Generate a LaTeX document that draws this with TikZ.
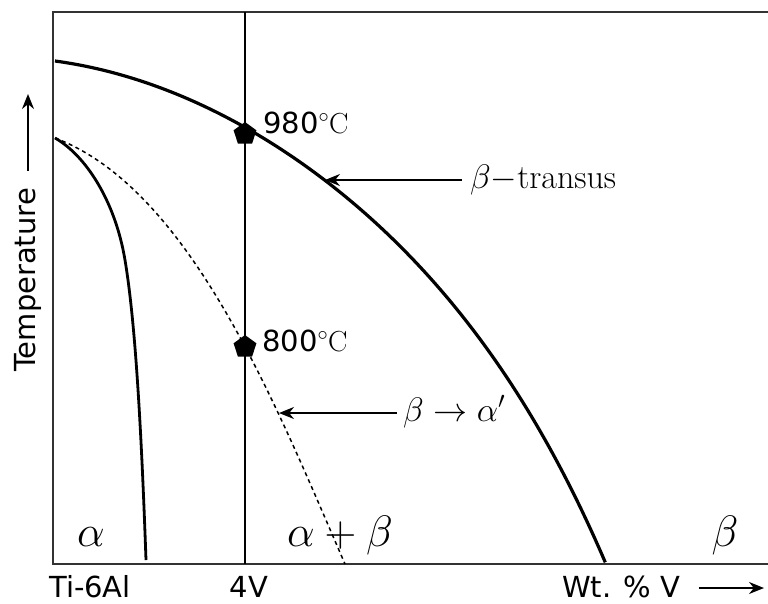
\RequirePackage{fix-cm}
\documentclass[tikz,border=0pt]{standalone}
\usepackage{amsmath,amssymb}
\usepackage{fontspec}
\usepackage{tikz}
\usetikzlibrary{arrows.meta,positioning,shapes.geometric}
\newfontfamily\labelsf{DejaVu Sans}

\begin{document}
\begin{tikzpicture}[x=1pt, y=-1pt, >={Stealth[length=15pt,width=12pt]},
  sflabel/.style={font=\labelsf\fontsize{29}{34}\selectfont, inner sep=0pt},
  phase/.style={font=\fontsize{44}{50}\selectfont, inner sep=0pt},
  note/.style={font=\fontsize{34}{40}\selectfont, inner sep=0pt},
  pent/.style={regular polygon, regular polygon sides=5, fill=black, minimum size=24pt, inner sep=0pt}]

  \useasboundingbox (0,0) rectangle (768,603);

  % Frame and 4V line
  \draw[line width=2pt, black!80] (768,12) -- (53,12) -- (53,564) -- (768,564);
  \draw[line width=1.5pt] (245,12) -- (245,564);

  % Phase boundaries
  \draw[line width=3.2pt] plot[domain=0:1, samples=120] ({55+551*\x}, {61+503*(0.15*\x+0.672*\x^2+0.178*\x^6)});
  \draw[line width=2.8pt] (55,138) .. controls (85,155) and (115,200) .. (125,260)
    .. controls (135,320) and (141,420) .. (146,560);
  \draw[line width=1.5pt, dash pattern=on 4pt off 3.5pt] (55,138) .. controls (190,189) and (275,403) .. (345,564);

  % Define coordinates for nodes
  \node[pent] (p1) at (245,134) {};
  \node[pent] (p2) at (245,347) {};
  \node[sflabel, anchor=base west] (t1) at (263,133) {980$^\circ$\textrm{C}};
  \node[sflabel, anchor=base west] (t2) at (262,351) {800$^\circ$\textrm{C}};
  \node[note, anchor=base west] (bt) at (470,188) {$\beta-$transus};
  \node[note, anchor=base west] (ba) at (403,421) {$\beta\rightarrow\alpha'$};
  \coordinate (c1) at (325,180);
  \coordinate (c2) at (279,413);

  \node[phase, anchor=base] (a) at (91,546) {$\alpha$};
  \node[phase, anchor=base] (ab) at (340,546) {$\alpha+\beta$};
  \node[phase, anchor=base] (b) at (725,546) {$\beta$};

  \node[sflabel, anchor=base] (ti) at (90,597) {Ti-6Al};
  \node[sflabel, anchor=base] (v4) at (249,597) {4V};
  \node[sflabel, anchor=base west] (wt) at (562,597) {Wt. \% V};
  \coordinate (wtend) at (764,588);
  \node[sflabel, anchor=base, rotate=90] (temp) at (35,280) {Temperature};
  \coordinate (tempend) at (28,94);

  % Draw arrows between nodes
  \draw[->, line width=1.5pt] (bt.west |- c1) ++(-8,0) -- (c1);
  \draw[->, line width=1.5pt] (ba.west |- c2) ++(-6,0) -- (c2);
  \draw[->, line width=1.5pt] (wt.east |- wtend) ++(18,0) -- (wtend);
  \draw[->, line width=1.5pt] (tempend |- temp.east) ++(0,-17) -- (tempend);
\end{tikzpicture}
\end{document}
